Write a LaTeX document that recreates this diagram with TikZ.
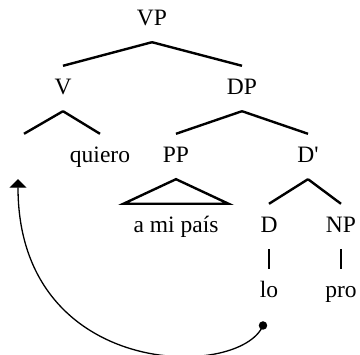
\documentclass[tikz,border=0pt]{standalone}
\usepackage{fontspec}
\setmainfont{Liberation Serif}
\usepackage{tikz}
\usetikzlibrary{arrows.meta}
\tikzstyle{cat}=[anchor=base, inner xsep=0pt, inner ysep=13.5pt,
text height=15.5pt, text depth=2.5pt]
\tikzstyle{branch}=[line width=2.4pt]
\tikzstyle{move}=[-{Triangle[width=17pt,length=8.5pt]}, line width=1.3pt]
\tikzstyle{origin}=[circle, fill=black, inner sep=0pt, minimum size=8.5pt]

\begin{document}
\begin{tikzpicture}[x=1pt,y=1pt,font=\fontsize{23.5}{28}\selectfont]
    \useasboundingbox (0,0) rectangle (360,-355);
    % Categories, row by row from the root down
    \node[cat] (VP)  at (152,-26)  {VP};
    \node[cat] (V)   at (63,-95)   {V};
    \node[cat] (DP)  at (242,-95)  {DP};
    \node[cat] (t)   at (21,-163)  {};
    \node[cat] (quiero) at (100,-163) {quiero};
    \node[cat] (PP)  at (176,-163) {PP};
    \node[cat] (Dbar) at (308,-163) {D\textquotesingle};
    \node[cat] (pais) at (176,-233) {a mi país};
    \node[cat] (D)   at (269,-233) {D};
    \node[cat] (NP)  at (341,-233) {NP};
    \node[cat] (lo)  at (269,-298) {lo};
    \node[cat] (pro) at (341,-298) {pro};
    % where the clitic starts out
    \node[origin] (dot) at (263,-325.5) {};
    % The branches:
    \path[branch]
    (VP.south) edge (V.north)
    (VP.south) edge (DP.north)
    (V.south) edge ([xshift=3pt]t.north)
    (V.south) edge (quiero.north)
    (DP.south) edge (PP.north)
    (DP.south) edge (Dbar.north)
    (Dbar.south) edge (D.north)
    (Dbar.south) edge (NP.north)
    (D.south) edge (lo.north)
    (NP.south) edge (pro.north)
    ;
    % PP is not expanded
    \draw[branch] (PP.south) -- ([xshift=-10pt]pais.north west)
      -- ([xshift=10pt]pais.north east) -- cycle;
    % movement of lo up to the empty V position
    \draw[move] (dot.center) .. controls (240,-380) and (18,-380) .. ([xshift=-3pt]t.south);
  \end{tikzpicture}
\end{document}
